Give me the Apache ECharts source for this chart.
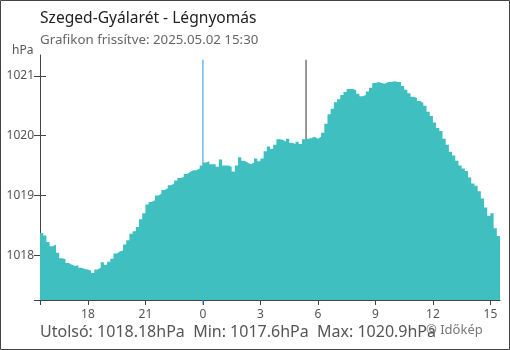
<!DOCTYPE html>
<html><head><meta charset="utf-8">
<script src="https://cdn.jsdelivr.net/npm/echarts@6/dist/echarts.min.js"></script>
<style>html,body{margin:0;padding:0;background:#fff}#c{width:510px;height:350px}</style>
</head><body><div id="c"></div>
<script>
// ---- data ----
const titleText = 'Szeged-Gyálarét - Légnyomás';
const subText = 'Grafikon frissítve: 2025.05.02 15:30';
const unitText = 'hPa';
const startHour = -8.5;          // 2025.05.01 15:30, hours relative to midnight
const stepMinutes = 10;
const pressure = [
1018.37,1018.33,1018.22,1018.15,1018.18,1018.04,1017.95,1017.93,1017.87,1017.84,
1017.82,1017.83,1017.79,1017.77,1017.76,1017.74,1017.70,1017.76,1017.79,1017.88,
1017.84,1017.89,1017.94,1018.03,1018.06,1018.08,1018.18,1018.25,1018.36,1018.40,
1018.47,1018.60,1018.70,1018.85,1018.89,1018.92,1019.00,1019.03,1019.09,1019.12,
1019.17,1019.20,1019.25,1019.29,1019.31,1019.36,1019.39,1019.42,1019.42,1019.45,
1019.50,1019.55,1019.57,1019.52,1019.52,1019.48,1019.60,1019.50,1019.50,1019.48,
1019.40,1019.50,1019.64,1019.58,1019.55,1019.52,1019.55,1019.62,1019.57,1019.62,
1019.74,1019.82,1019.78,1019.85,1019.94,1019.93,1019.90,1019.95,1019.88,1019.86,
1019.90,1019.86,1019.94,1019.95,1019.96,1019.98,1019.95,1019.98,1020.05,1020.20,
1020.36,1020.45,1020.56,1020.61,1020.68,1020.73,1020.78,1020.78,1020.76,1020.70,
1020.66,1020.68,1020.74,1020.80,1020.88,1020.90,1020.88,1020.87,1020.90,1020.90,
1020.91,1020.90,1020.90,1020.83,1020.77,1020.71,1020.65,1020.63,1020.58,1020.55,
1020.50,1020.40,1020.33,1020.22,1020.13,1020.08,1019.95,1019.85,1019.73,1019.67,
1019.58,1019.50,1019.45,1019.41,1019.30,1019.20,1019.16,1019.07,1018.95,1018.80,
1018.66,1018.70,1018.45,1018.32,1018.18
];
const xTickHours = [-8.5, -6, -3, 0, 3, 6, 9, 12, 15];
const xLabelHours = [-6, -3, 0, 3, 6, 9, 12, 15];
const yTicks = [1018, 1019, 1020, 1021];
const yMin = 1017.25, yMax = 1021.35;
const xMin = -8.5, xMax = 15.5;
const midnightHour = 0;
const sunriseHour = 5.38;
const lineTopValue = 1021.27;
const midnightBottomValue = 1017.17;   // blue line reaches just below the axis
const statsText = 'Utolsó: 1018.18hPa  Min: 1017.6hPa  Max: 1020.9hPa';
const copyText = '© Időkép';

const FONT = '"Noto Sans", "Open Sans", sans-serif';
const BLUE = '#2196f3';
const seriesData = pressure.map((v, i) => [startHour + i * stepMinutes / 60, v]);

function vLine(hour, bottom, color) {
  return {
    type: 'line', z: 1, silent: true, clip: false, showSymbol: false, symbol: 'none',
    data: [[hour, lineTopValue], [hour, bottom]],
    lineStyle: {color: color, width: 1, type: 'solid'},
    itemStyle: {color: color},
    emphasis: {disabled: true}
  };
}

const chart = echarts.init(document.getElementById('c'), null, {renderer: 'canvas'});
chart.setOption({
  animation: false,
  backgroundColor: '#fff',
  textStyle: {fontFamily: FONT},
  title: {
    text: titleText, subtext: subText, left: 35, top: 6, itemGap: 7,
    textStyle: {fontFamily: FONT, fontSize: 15.6, fontWeight: 'normal', color: '#222'},
    subtextStyle: {fontFamily: FONT, fontSize: 13.3, color: '#666'}
  },
  grid: {left: 40, right: 10, top: 55, bottom: 50},
  xAxis: {
    type: 'value', min: xMin, max: xMax,
    axisLine: {show: true, onZero: false, lineStyle: {color: '#444', width: 1}},
    axisTick: {show: true, length: 5, customValues: xTickHours, lineStyle: {color: '#444'}},
    axisLabel: {customValues: xLabelHours, margin: 9, fontSize: 12, color: '#555', fontFamily: FONT,
      formatter: v => String(((v % 24) + 24) % 24)},
    splitLine: {show: false}
  },
  yAxis: [{
    type: 'value', min: yMin, max: yMax, position: 'left',
    axisLine: {show: true, onZero: false, lineStyle: {color: '#444', width: 1}},
    axisTick: {show: true, length: 6, customValues: [yMin].concat(yTicks), lineStyle: {color: '#444'}},
    axisLabel: {customValues: yTicks, margin: 6, fontSize: 12, color: '#555', fontFamily: FONT,
      formatter: v => String(v)},
    splitLine: {show: false}
  }, {
    type: 'value', min: yMin, max: yMax, position: 'left',
    axisLine: {show: false, onZero: false},
    axisTick: {show: true, inside: true, length: 6, customValues: yTicks, lineStyle: {color: '#444'}},
    axisLabel: {show: false}, splitLine: {show: false}
  }],
  series: [
    vLine(midnightHour, midnightBottomValue, BLUE),
    vLine(sunriseHour, yMin, '#333'),
    {
      type: 'line', z: 2, step: 'end', data: seriesData, showSymbol: false, silent: true,
      lineStyle: {width: 0, color: '#40bfc1'},
      areaStyle: {color: '#40bfc1', opacity: 1, origin: 'start'}
    }
  ],
  graphic: [
    {type: 'rect', shape: {x: 0.5, y: 0.5, width: 509, height: 349}, style: {fill: null, stroke: '#444', lineWidth: 1}, silent: true, z: 100},
    {type: 'text', left: 12, top: 45, style: {text: unitText, font: '12px ' + FONT, fill: '#555'}},
    {type: 'text', left: 40, top: 324, style: {text: statsText, font: '16px ' + FONT, fill: '#555'}},
    {type: 'text', left: 426, top: 324, style: {text: copyText, font: '13px ' + FONT, fill: '#777'}}
  ]
});
</script>
</body></html>
